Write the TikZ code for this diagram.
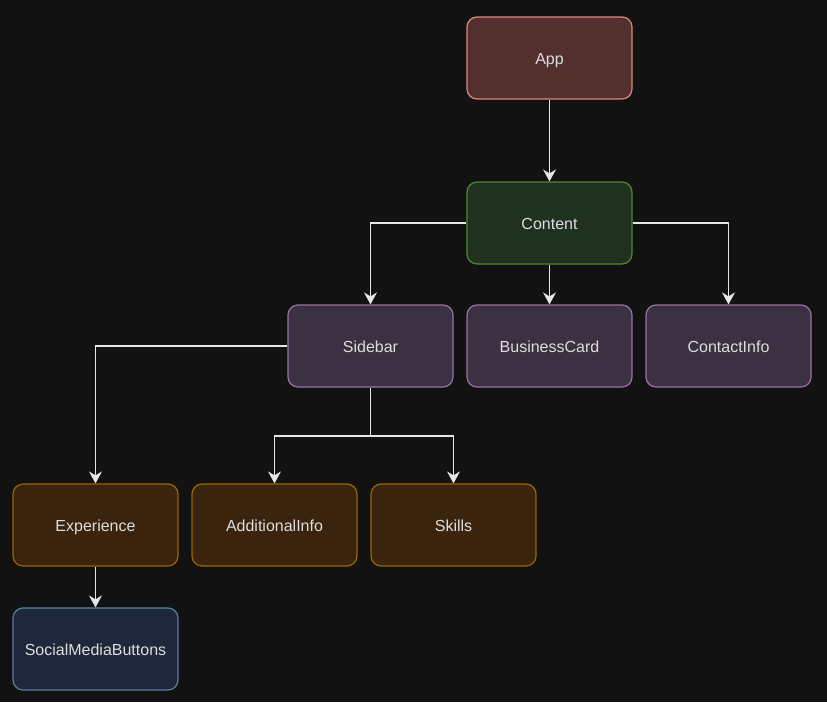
\documentclass[tikz,border=0pt]{standalone}
\usepackage{fontspec}
\setmainfont{Liberation Sans}
\usetikzlibrary{arrows.meta}
\definecolor{bgcol}{HTML}{121212}
\definecolor{txtcol}{HTML}{DDDDDD}
\definecolor{linkcol}{HTML}{E6E6E6}
\definecolor{appfill}{HTML}{532F2E}
\definecolor{appdraw}{HTML}{E0867F}
\definecolor{contfill}{HTML}{21311F}
\definecolor{contdraw}{HTML}{4F8A2F}
\definecolor{partfill}{HTML}{3C3143}
\definecolor{partdraw}{HTML}{9673A6}
\definecolor{leaffill}{HTML}{3B240D}
\definecolor{leafdraw}{HTML}{996600}
\definecolor{btnfill}{HTML}{1E283A}
\definecolor{btndraw}{HTML}{5C7CA8}

\begin{document}
\begin{tikzpicture}[x=1pt, y=-1pt, font=\fontsize{16}{19}\selectfont,
	box/.style={draw, rounded corners=10pt, line width=1.2pt, text=txtcol,
		minimum width=165pt, minimum height=82pt, text height=13pt, text depth=0pt},
	link/.style={draw=linkcol, line width=1.3pt,
		-{Stealth[length=12pt, width=13pt, inset=4pt]}}]
\fill[bgcol] (0,0) rectangle (827,702);

\node[box, fill=appfill, draw=appdraw] (app) at (549.5,58) {App};
\node[box, fill=contfill, draw=contdraw] (content) at (549.5,223) {Content};
\node[box, fill=partfill, draw=partdraw] (sidebar) at (370.5,346) {Sidebar};
\node[box, fill=partfill, draw=partdraw] (card) at (549.5,346) {BusinessCard};
\node[box, fill=partfill, draw=partdraw] (contact) at (728.5,346) {ContactInfo};
\node[box, fill=leaffill, draw=leafdraw] (experience) at (95.5,525) {Experience};
\node[box, fill=leaffill, draw=leafdraw] (additional) at (274.5,525) {AdditionalInfo};
\node[box, fill=leaffill, draw=leafdraw] (skills) at (453.5,525) {Skills};
\node[box, fill=btnfill, draw=btndraw] (buttons) at (95.5,649) {SocialMediaButtons};

\coordinate (split) at (370.5,436);

\draw[link] (app) -- (content);
\draw[link] (content.west) -| (sidebar.north);
\draw[link] (content) -- (card);
\draw[link] (content.east) -| (contact.north);
\draw[link] (sidebar.west) -| (experience.north);
\draw[link] (sidebar.south) -- (split) -| (additional.north);
\draw[link] (split) -| (skills.north);
\draw[link] (experience) -- (buttons);
\end{tikzpicture}
\end{document}
